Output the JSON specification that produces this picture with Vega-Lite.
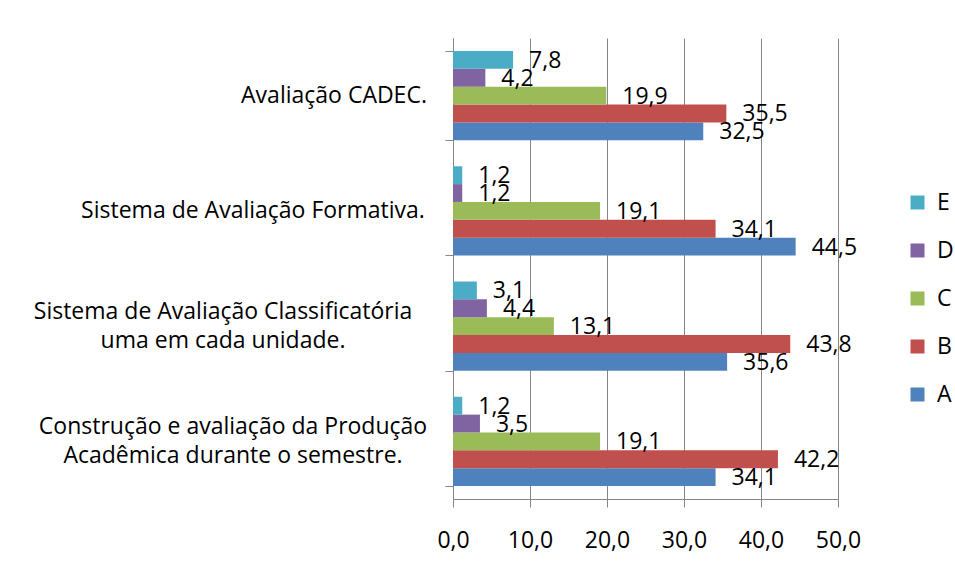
{
  "$schema": "https://vega.github.io/schema/vega-lite/v6.json",
  "width": 385,
  "height": 461,
  "autosize": {"type": "none"},
  "padding": {"left": 453, "top": 38, "right": 117, "bottom": 81},
  "background": "white",
  "config": {
    "locale": {"number": {"decimal": ",", "thousands": ".", "grouping": [3], "currency": ["R$", ""]}},
    "font": "Open Sans",
    "view": {"stroke": null}
  },
  "data": {
    "values": [
      {"cat": "Avaliação CADEC.", "serie": "A", "valor": 32.5},
      {"cat": "Avaliação CADEC.", "serie": "B", "valor": 35.5},
      {"cat": "Avaliação CADEC.", "serie": "C", "valor": 19.9},
      {"cat": "Avaliação CADEC.", "serie": "D", "valor": 4.2},
      {"cat": "Avaliação CADEC.", "serie": "E", "valor": 7.8},
      {"cat": "Sistema de Avaliação Formativa.", "serie": "A", "valor": 44.5},
      {"cat": "Sistema de Avaliação Formativa.", "serie": "B", "valor": 34.1},
      {"cat": "Sistema de Avaliação Formativa.", "serie": "C", "valor": 19.1},
      {"cat": "Sistema de Avaliação Formativa.", "serie": "D", "valor": 1.2},
      {"cat": "Sistema de Avaliação Formativa.", "serie": "E", "valor": 1.2},
      {"cat": "Sistema de Avaliação Classificatória uma em cada unidade.", "serie": "A", "valor": 35.6},
      {"cat": "Sistema de Avaliação Classificatória uma em cada unidade.", "serie": "B", "valor": 43.8},
      {"cat": "Sistema de Avaliação Classificatória uma em cada unidade.", "serie": "C", "valor": 13.1},
      {"cat": "Sistema de Avaliação Classificatória uma em cada unidade.", "serie": "D", "valor": 4.4},
      {"cat": "Sistema de Avaliação Classificatória uma em cada unidade.", "serie": "E", "valor": 3.1},
      {"cat": "Construção e avaliação da Produção Acadêmica durante o semestre.", "serie": "A", "valor": 34.1},
      {"cat": "Construção e avaliação da Produção Acadêmica durante o semestre.", "serie": "B", "valor": 42.2},
      {"cat": "Construção e avaliação da Produção Acadêmica durante o semestre.", "serie": "C", "valor": 19.1},
      {"cat": "Construção e avaliação da Produção Acadêmica durante o semestre.", "serie": "D", "valor": 3.5},
      {"cat": "Construção e avaliação da Produção Acadêmica durante o semestre.", "serie": "E", "valor": 1.2}
    ]
  },
  "encoding": {
    "y": {
      "field": "cat",
      "type": "nominal",
      "sort": [
        "Avaliação CADEC.",
        "Sistema de Avaliação Formativa.",
        "Sistema de Avaliação Classificatória uma em cada unidade.",
        "Construção e avaliação da Produção Acadêmica durante o semestre."
      ],
      "scale": {"paddingInner": 0.226, "paddingOuter": 0.113},
      "axis": {
        "title": null,
        "tickBand": "extent",
        "domainColor": "#868686",
        "tickColor": "#868686",
        "tickSize": 8,
        "labelFontSize": 23,
        "labelColor": "black",
        "labelLimit": 600,
        "labelLineHeight": 29,
        "labelAlign": "center",
        "labelBaseline": "middle",
        "labelOffset": {
          "condition": [
            {"test": "datum.value == 'Avaliação CADEC.'", "value": 0},
            {"test": "datum.value == 'Sistema de Avaliação Formativa.'", "value": 0}
          ],
          "value": -14.5
        },
        "labelPadding": {
          "condition": [
            {"test": "datum.value == 'Avaliação CADEC.'", "value": 111.5},
            {"test": "datum.value == 'Sistema de Avaliação Formativa.'", "value": 192.5},
            {"test": "datum.value == 'Sistema de Avaliação Classificatória uma em cada unidade.'", "value": 222.5}
          ],
          "value": 212.5
        },
        "labelExpr": "datum.value == 'Sistema de Avaliação Classificatória uma em cada unidade.' ? ['Sistema de Avaliação Classificatória', 'uma em cada unidade.'] : datum.value == 'Construção e avaliação da Produção Acadêmica durante o semestre.' ? ['Construção e avaliação da Produção', 'Acadêmica durante o semestre.'] : datum.value"
      }
    },
    "yOffset": {
      "field": "serie",
      "type": "nominal",
      "sort": ["E", "D", "C", "B", "A"],
      "scale": {"paddingInner": 0, "paddingOuter": 0}
    },
    "x": {
      "field": "valor",
      "type": "quantitative",
      "scale": {"domain": [0, 50], "nice": false},
      "axis": {
        "title": null,
        "values": [0, 10, 20, 30, 40, 50],
        "format": ".1f",
        "grid": true,
        "gridColor": "#868686",
        "domainColor": "#868686",
        "tickColor": "#868686",
        "tickSize": 8,
        "labelFontSize": 23,
        "labelColor": "black",
        "labelPadding": 22,
        "labelFlush": false
      }
    }
  },
  "layer": [
    {
      "mark": {"type": "bar"},
      "encoding": {
        "color": {
          "field": "serie",
          "type": "nominal",
          "scale": {
            "domain": ["E", "D", "C", "B", "A"],
            "range": ["#4BACC6", "#8064A2", "#9BBB59", "#C0504D", "#4F81BD"]
          },
          "legend": {
            "title": null,
            "orient": "none",
            "legendX": 453,
            "legendY": 153,
            "padding": 0,
            "symbolType": "square",
            "symbolSize": 196,
            "symbolStrokeWidth": 0,
            "labelFontSize": 23,
            "labelColor": "black",
            "labelOffset": 8,
            "rowPadding": 24
          }
        }
      }
    },
    {
      "mark": {"type": "text", "align": "left", "baseline": "middle", "dx": 16, "dy": 1, "fontSize": 23, "color": "black"},
      "encoding": {
        "text": {"field": "valor", "type": "quantitative", "format": ".1f"}
      }
    }
  ]
}
